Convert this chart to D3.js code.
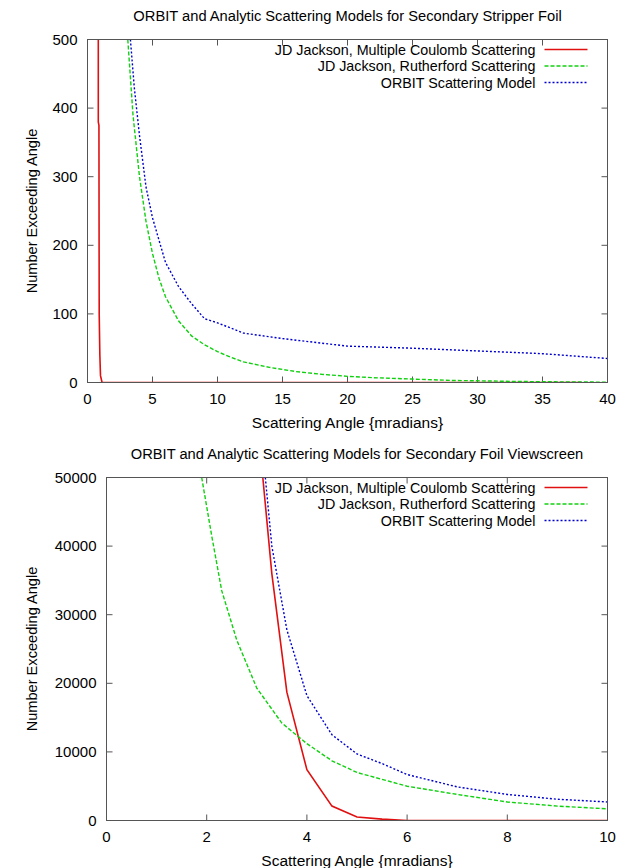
<!DOCTYPE html>
<html>
<head>
<meta charset="utf-8">
<script src="https://cdn.jsdelivr.net/npm/d3@7"></script>
<style>
  body { margin: 0; background: #fff; }
  text { font-family: "Liberation Sans", Arial, sans-serif; fill: #000; }
  .frame { fill: none; stroke: #555; stroke-width: 1; }
  .tick_mark { stroke: #555; stroke-width: 1; }
</style>
</head>
<body>
<svg id="chart" width="628" height="868"></svg>
<script>
// series names (legend)
var seriesNames = ['JD Jackson, Multiple Coulomb Scattering', 'JD Jackson, Rutherford Scattering', 'ORBIT Scattering Model'];

// top panel: Secondary Stripper Foil, angle [mrad] -> number exceeding
var foilXTicks = [0, 5, 10, 15, 20, 25, 30, 35, 40];
var foilYTicks = [0, 100, 200, 300, 400, 500];
var foilCoulomb = [[0.83,500],[0.83,380],[0.88,375],[0.9,100],[0.95,40],[1.0,10],[1.12,0],[38,0]];
var foilRutherford = [[3.1,500],[3.5,390],[4,300],[4.5,235],[5,188],[5.5,152],[6,125],[7,90],[8,68],[9,55],[10,45],
  [11,37],[12,30],[14,22],[16,16],[18,12],[20,9],[22,7],[25,5],[28,3],[30,2.5],[33,1.5],[36,1],[40,0.5]];
var foilOrbit = [[3.3,500],[3.6,430],[4,360],[4.5,285],[5,240],[6,175],[7,140],[8,115],[9,93],[10,87],
  [12,72],[15,64],[20,53],[25,50],[30,46],[35,42],[40,35]];

// bottom panel: Secondary Foil Viewscreen
var screenXTicks = [0, 2, 4, 6, 8, 10];
var screenYTicks = [0, 10000, 20000, 30000, 40000, 50000];
var screenCoulomb = [[3.12,50000],[3.3,36000],[3.6,18700],[4.0,7400],[4.5,2100],[5.0,500],[5.5,200],[6,0],[10,0]];
var screenRutherford = [[1.9,50000],[2.1,41500],[2.3,33500],[2.6,26300],[3.0,19300],[3.5,14200],[4.0,11200],
  [4.5,8700],[5.0,7000],[6.0,5000],[7,3800],[8,2700],[9,2100],[10,1700]];
var screenOrbit = [[3.17,50000],[3.3,40000],[3.6,27800],[4.0,18200],[4.5,12500],[5.0,9700],[5.5,8300],
  [6,6700],[7,4900],[8,3800],[9,3100],[10,2700]];

var seriesStyle = [
  {color: '#e01010', dash: null,  width: 1.6},
  {color: '#10d010', dash: '4,2', width: 1.4},
  {color: '#0000cc', dash: '2,2', width: 1.4}
];

function drawPanel(svg, p) {
  var x = d3.scaleLinear().domain([p.xTicks[0], p.xTicks[p.xTicks.length-1]]).range([p.left, p.right]);
  var y = d3.scaleLinear().domain([p.yTicks[0], p.yTicks[p.yTicks.length-1]]).range([p.bottom, p.top]);
  var tickLen = 6;
  var g = svg.append('g');

  // clip for the curves
  g.append('clipPath').attr('id', p.id + '_clip')
    .append('rect')
    .attr('x', p.left).attr('y', p.top)
    .attr('width', p.right - p.left).attr('height', p.bottom - p.top);

  // title
  g.append('text')
    .attr('x', (p.left + p.right) / 2)
    .attr('y', p.top - 19)
    .attr('text-anchor', 'middle')
    .attr('font-size', '14.7px')
    .text(p.title);

  // ticks, inward on all four sides
  p.xTicks.forEach(function(t) {
    g.append('line').attr('class', 'tick_mark')
      .attr('x1', x(t)).attr('x2', x(t)).attr('y1', p.bottom).attr('y2', p.bottom - tickLen);
    g.append('line').attr('class', 'tick_mark')
      .attr('x1', x(t)).attr('x2', x(t)).attr('y1', p.top).attr('y2', p.top + tickLen);
    g.append('text')
      .attr('x', x(t)).attr('y', p.bottom + 21)
      .attr('text-anchor', 'middle').attr('font-size', '15px')
      .text(t);
  });
  p.yTicks.forEach(function(t) {
    g.append('line').attr('class', 'tick_mark')
      .attr('x1', p.left).attr('x2', p.left + tickLen).attr('y1', y(t)).attr('y2', y(t));
    g.append('line').attr('class', 'tick_mark')
      .attr('x1', p.right).attr('x2', p.right - tickLen).attr('y1', y(t)).attr('y2', y(t));
    g.append('text')
      .attr('x', p.left - 10).attr('y', y(t) + 5)
      .attr('text-anchor', 'end').attr('font-size', '15px')
      .text(t);
  });

  // axis labels
  g.append('text')
    .attr('x', (p.left + p.right) / 2).attr('y', p.bottom + 45)
    .attr('text-anchor', 'middle').attr('font-size', '15.5px')
    .text('Scattering Angle {mradians}');
  g.append('text')
    .attr('transform', 'translate(37,' + ((p.top + p.bottom) / 2) + ') rotate(-90)')
    .attr('text-anchor', 'middle').attr('font-size', '14.6px')
    .text('Number Exceeding Angle');

  // curves
  var line = d3.line().x(function(d) { return x(d[0]); }).y(function(d) { return y(d[1]); });
  p.series.forEach(function(s, i) {
    g.append('path')
      .datum(s)
      .attr('d', line)
      .attr('clip-path', 'url(#' + p.id + '_clip)')
      .attr('fill', 'none')
      .attr('stroke', seriesStyle[i].color)
      .attr('stroke-width', seriesStyle[i].width)
      .attr('stroke-dasharray', seriesStyle[i].dash);
  });

  // legend (gnuplot style, top right)
  seriesNames.forEach(function(name, i) {
    var ly = p.top + 10 + i * 16.5;
    g.append('text')
      .attr('x', p.right - 72).attr('y', ly + 5)
      .attr('text-anchor', 'end').attr('font-size', '14.3px')
      .text(name);
    g.append('line')
      .attr('x1', p.right - 63).attr('x2', p.right - 20)
      .attr('y1', ly).attr('y2', ly)
      .attr('stroke', seriesStyle[i].color)
      .attr('stroke-width', seriesStyle[i].width)
      .attr('stroke-dasharray', seriesStyle[i].dash);
  });

  // frame
  g.append('rect').attr('class', 'frame')
    .attr('x', p.left).attr('y', p.top)
    .attr('width', p.right - p.left).attr('height', p.bottom - p.top);
}

var svg = d3.select('#chart');
drawPanel(svg, {
  id: 'foil', title: 'ORBIT and Analytic Scattering Models for Secondary Stripper Foil',
  left: 87.5, right: 607.5, top: 39.5, bottom: 382.5,
  xTicks: foilXTicks, yTicks: foilYTicks,
  series: [foilCoulomb, foilRutherford, foilOrbit]
});
drawPanel(svg, {
  id: 'screen', title: 'ORBIT and Analytic Scattering Models for Secondary Foil Viewscreen',
  left: 106.5, right: 607.5, top: 477.5, bottom: 820.5,
  xTicks: screenXTicks, yTicks: screenYTicks,
  series: [screenCoulomb, screenRutherford, screenOrbit]
});
</script>
</body>
</html>
